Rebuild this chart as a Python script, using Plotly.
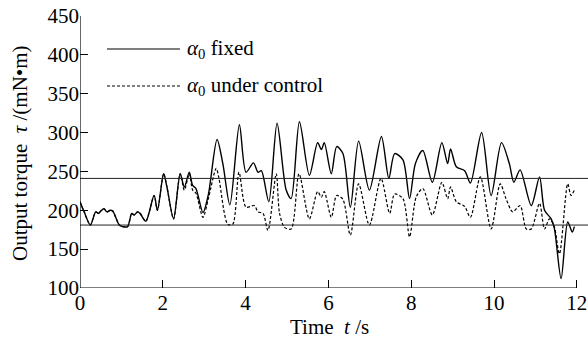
import plotly.graph_objects as go

# ---- data ----
t_fixed = [0, 0.1, 0.25, 0.38, 0.45, 0.5, 0.58, 0.65, 0.73, 0.79, 0.95, 1.03, 1.15, 1.25, 1.31,
           1.39, 1.45, 1.59, 1.79, 1.87, 2.02, 2.1, 2.26, 2.42, 2.52, 2.64, 2.72, 2.8, 2.97, 3.1,
           3.31, 3.45, 3.62, 3.85, 4.01, 4.19, 4.3, 4.38, 4.56, 4.76, 4.98, 5.1, 5.30, 5.54, 5.74,
           5.83, 5.9, 6.07, 6.2, 6.35, 6.53, 6.73, 6.99, 7.28, 7.46, 7.6, 7.8, 7.96, 8.1, 8.28,
           8.51, 8.74, 8.88, 8.95, 9.09, 9.29, 9.43, 9.70, 9.93, 10.18, 10.37, 10.48, 10.63, 10.9,
           11.1, 11.22, 11.38, 11.46, 11.62, 11.78, 11.89, 11.94]
v_fixed = [211, 198, 181, 198, 196, 199, 202, 198, 200, 199, 181, 179, 179, 196, 194,
           198, 196, 186, 219, 200, 247, 230, 189, 247, 230, 249, 232, 228, 197, 220,
           291, 260, 207, 310, 249, 261, 249, 251, 211, 312, 226, 215, 314, 245, 287,
           278, 287, 247, 282, 273, 204, 289, 226, 295, 241, 273, 265, 215, 260, 277,
           236, 287, 260, 279, 256, 251, 235, 300, 219, 287, 260, 236, 252, 206,
           243, 200, 189, 176, 112, 185, 172, 179]

t_ctrl = [0, 0.1, 0.25, 0.38, 0.45, 0.5, 0.58, 0.65, 0.73, 0.79, 0.95, 1.03, 1.15, 1.25, 1.31,
          1.39, 1.45, 1.59, 1.79, 1.87, 2.02, 2.1, 2.26, 2.42, 2.52, 2.64, 2.72, 2.8, 2.97, 3.1,
          3.29, 3.35, 3.57, 3.69, 3.84, 4.01, 4.21, 4.3, 4.42, 4.54, 4.74, 4.82, 4.94, 5.1, 5.29,
          5.54, 5.74, 5.83, 5.9, 6.07, 6.2, 6.35, 6.53, 6.73, 6.99, 7.27, 7.48, 7.6, 7.8, 7.96,
          8.12, 8.28, 8.51, 8.74, 8.88, 8.95, 9.09, 9.29, 9.43, 9.67, 9.93, 10.15, 10.29, 10.45,
          10.63, 10.78, 10.9, 11.1, 11.22, 11.34, 11.45, 11.58, 11.78, 11.86, 11.94]
v_ctrl = [211, 198, 181, 198, 196, 199, 202, 198, 200, 199, 181, 179, 179, 196, 194,
          198, 196, 186, 219, 200, 247, 230, 189, 247, 226, 247, 226, 222, 191, 215,
          254, 243, 182, 182, 249, 204, 206, 198, 196, 174, 247, 196, 178, 176, 247,
          189, 224, 217, 224, 191, 219, 214, 168, 234, 181, 241, 196, 221, 215, 166,
          217, 228, 194, 236, 215, 230, 211, 205, 191, 243, 176, 234, 215, 198,
          206, 176, 176, 209, 176, 189, 180, 144, 234, 219, 226]

ref_levels = [241, 181]
x_ticks = [0, 2, 4, 6, 8, 10, 12]
y_ticks = [100, 150, 200, 250, 300, 350, 400, 450]
legend_labels = ["<i>α</i><sub>0</sub> fixed", "<i>α</i><sub>0</sub> under control"]

FONT = "Liberation Serif, Times New Roman, serif"
FS = 21

fig = go.Figure()
fig.add_trace(go.Scatter(x=t_fixed, y=v_fixed, mode="lines",
                         line=dict(color="black", width=1.4, shape="spline", smoothing=0.8),
                         showlegend=False))
fig.add_trace(go.Scatter(x=t_ctrl, y=v_ctrl, mode="lines",
                         line=dict(color="black", width=1.2, dash="3px,2px", shape="spline", smoothing=0.8),
                         showlegend=False))

# reference levels (extend across to the right edge)
for lv in ref_levels:
    fig.add_shape(type="line", xref="paper", yref="y", x0=0, x1=1, y0=lv, y1=lv,
                  line=dict(color="#222", width=1))

# axis lines: left full height, bottom 0..12
fig.add_shape(type="line", xref="x", yref="y", x0=0, x1=0, y0=100, y1=450,
              line=dict(color="black", width=1.2))
fig.add_shape(type="line", xref="x", yref="y", x0=0, x1=12, y0=100, y1=100,
              line=dict(color="black", width=1.2))

# legend (manual)
leg_y = [(288 - 49) / 272, (288 - 86) / 272]
dashes = ["solid", "3px,2px"]
for yy, d, lab in zip(leg_y, dashes, legend_labels):
    fig.add_shape(type="line", xref="paper", yref="paper", x0=(107 - 80) / 508, x1=(180 - 80) / 508,
                  y0=yy, y1=yy, line=dict(color="black", width=1.2, dash=d))
    fig.add_annotation(xref="paper", yref="paper", x=(185 - 80) / 508, y=yy, text=lab,
                       showarrow=False, xanchor="left", yanchor="middle",
                       font=dict(family=FONT, size=FS, color="black"))

# axis titles
fig.add_annotation(xref="paper", yref="paper", x=(20 - 80) / 508, y=(288 - 153) / 272,
                   text="Output torque  <i>τ</i> /(mN•m)", textangle=-90, showarrow=False,
                   xanchor="center", yanchor="middle", font=dict(family=FONT, size=FS, color="black"))
fig.add_annotation(xref="paper", yref="paper", x=(329 - 80) / 508, y=(288 - 327) / 272,
                   text="Time  <i>t</i> /s", showarrow=False,
                   xanchor="center", yanchor="middle", font=dict(family=FONT, size=FS, color="black"))

fig.update_xaxes(range=[0, 12.27], tickvals=x_ticks, ticktext=[str(v) for v in x_ticks],
                 ticks="inside", ticklen=8, tickcolor="black",
                 showline=False, showgrid=False, zeroline=False,
                 tickfont=dict(family=FONT, size=FS, color="black"))
fig.update_yaxes(range=[100, 450], tickvals=y_ticks, ticktext=[str(v) for v in y_ticks],
                 ticks="inside", ticklen=8, tickcolor="black",
                 showline=False, showgrid=False, zeroline=False,
                 tickfont=dict(family=FONT, size=FS, color="black"))

fig.update_layout(width=588, height=340, margin=dict(l=80, r=0, t=16, b=52),
                  font=dict(family=FONT, size=FS, color="black"),
                  plot_bgcolor="white", paper_bgcolor="white")

fig.write_html("out.html")
